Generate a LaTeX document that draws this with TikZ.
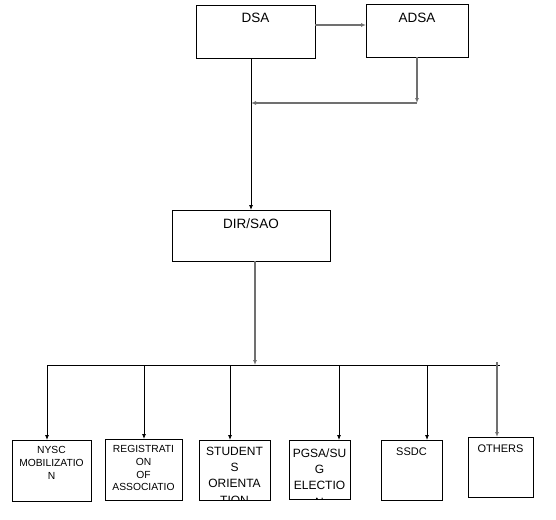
\documentclass[tikz,border=0pt]{standalone}
\usepackage{fontspec}
\setmainfont{Liberation Sans}
\usetikzlibrary{arrows.meta,calc}
\definecolor{linegray}{RGB}{112,112,112}
\tikzset{
  box/.style={draw=black, line width=0.9pt, inner sep=0pt, outer sep=0pt, anchor=north west},
  txt/.style={anchor=north, inner sep=0pt, outer sep=0pt, align=center},
  barrow/.style={draw=black, line width=0.8pt, -{Latex[length=5pt,width=4pt]}},
  garrow/.style={draw=linegray, line width=1.3pt, -{Latex[length=5pt,width=4pt]}},
  bline/.style={draw=black, line width=0.8pt},
}
\newcommand{\fbig}{\fontsize{13.5}{15}\selectfont}
\newcommand{\fmid}{\fontsize{12}{16.3}\selectfont}
\newcommand{\fmed}{\fontsize{11}{13}\selectfont}
\newcommand{\fsmall}{\fontsize{10.3}{12.8}\selectfont}
\begin{document}
\begin{tikzpicture}[x=1pt,y=-1pt]
\useasboundingbox (0,0) rectangle (556,519);
% top boxes
\node[box, minimum width=119pt, minimum height=53pt] (dsa) at (196,5) {};
\node[box, minimum width=102pt, minimum height=53pt] (adsa) at (366,4) {};
\node[box, minimum width=158pt, minimum height=51pt] (dir) at (172,210) {};
\node[txt, font=\fbig] (dsaT) at ([yshift=-8.3pt]dsa.north) {DSA};
\node[txt, font=\fbig] (adsaT) at ([yshift=-9.3pt]adsa.north) {ADSA};
\node[txt, font=\fbig] (dirT) at ([yshift=-8.3pt]dir.north) {DIR/SAO};
% bottom boxes
\node[box, minimum width=79pt, minimum height=61pt] (nysc) at (12,440) {};
\node[box, minimum width=77pt, minimum height=61pt] (reg) at (105,439) {};
\node[box, minimum width=71pt, minimum height=60pt] (stud) at (199,440) {};
\node[box, minimum width=61pt, minimum height=59pt] (pgsa) at (289,440) {};
\node[box, minimum width=61pt, minimum height=60pt] (ssdc) at (381,440) {};
\node[box, minimum width=65pt, minimum height=60pt] (oth) at (468,437) {};
\begin{scope}
  \clip (nysc.north west) rectangle (nysc.south east);
  \node[txt, font=\fsmall] (nyscT) at ([yshift=-6.5pt]nysc.north) {NYSC\\MOBILIZATIO\\N};
\end{scope}
\begin{scope}
  \clip (reg.north west) rectangle (reg.south east);
  \node[txt, font=\fsmall] (regT) at ([yshift=-6.3pt]reg.north) {REGISTRATI\\ON\\OF\\ASSOCIATIO};
\end{scope}
\begin{scope}
  \clip (stud.north west) rectangle (stud.south east);
  \node[txt, font=\fmid] (studT) at ([yshift=-7pt]stud.north) {STUDENT\\S\\ORIENTA\\TION};
\end{scope}
\begin{scope}
  \clip (pgsa.north west) rectangle (pgsa.south east);
  \node[txt, font=\fmid] (pgsaT) at ([yshift=-8.4pt]pgsa.north) {PGSA/SU\\G\\ELECTIO\\N};
\end{scope}
\node[txt, font=\fmed] (ssdcT) at ([yshift=-8pt]ssdc.north) {SSDC};
\node[txt, font=\fmed] (othT) at ([yshift=-8pt]oth.north) {OTHERS};
% coordinates
\coordinate (j) at (251,103);
\coordinate (t1) at (47,365);
\coordinate (t2) at (144,365);
\coordinate (t3) at (230,365);
\coordinate (t4) at (339,365);
\coordinate (t5) at (427,365);
\coordinate (t6) at (497,362);
\coordinate (bR) at (500,365);
\coordinate (dout) at (255,261);
% top connectors
\draw[garrow] ([yshift=6.5pt]dsa.east) -- ([yshift=6.5pt]dsa.east -| adsa.west);
\draw[garrow] (adsa.south) -- (adsa.south |- j);
\draw[garrow] (adsa.south |- j) -- (j);
\draw[barrow] (dir.north |- dsa.south) -- (dir.north);
% DIR/SAO to bus
\draw[garrow] (dout) -- (dout |- t1);
\draw[bline] (t1) -- (bR);
% bus to bottom boxes
\draw[barrow] (t1) -- (t1 |- nysc.north);
\draw[barrow] (t2) -- (t2 |- reg.north);
\draw[barrow] (t3) -- (t3 |- stud.north);
\draw[barrow] (t4) -- (t4 |- pgsa.north);
\draw[barrow] (t5) -- (t5 |- ssdc.north);
\draw[garrow] (t6) -- (t6 |- oth.north);
\end{tikzpicture}
\end{document}
